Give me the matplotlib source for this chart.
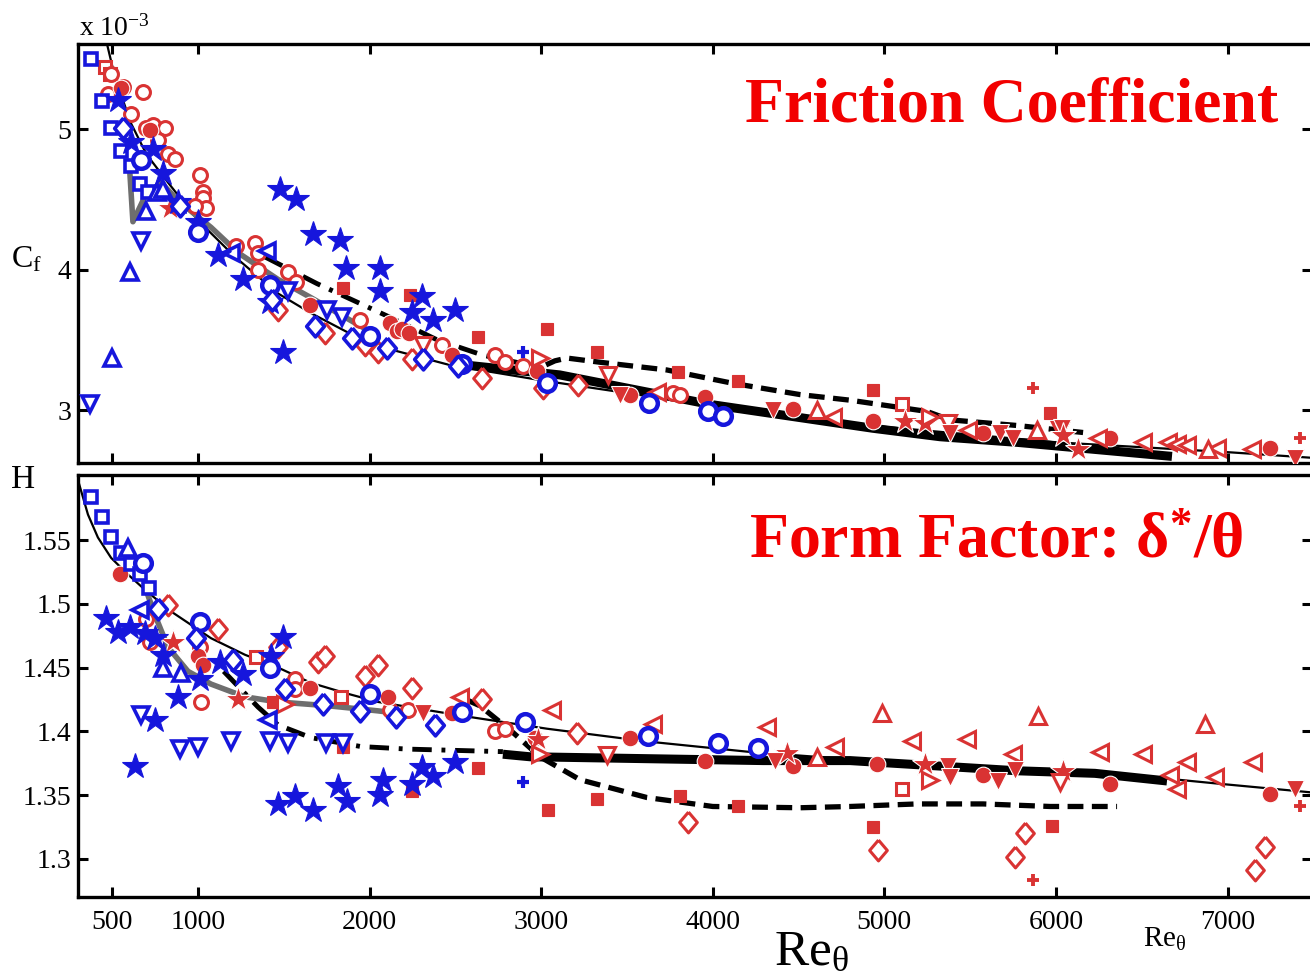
import matplotlib
matplotlib.use('Agg')
import matplotlib.pyplot as plt

BLUE = '#1616dc'
RED = '#d93333'
GRAY = '#6e6e6e'

# ---------------- friction coefficient (units of 1e-3) ----------------
cf_fit_re = [470, 516, 610, 700, 825, 1000, 1216, 1466, 1658, 2002, 2468, 3009, 4000, 5004, 6006, 7002, 7492]
cf_fit = [5.605, 5.37, 5.04, 4.82, 4.62, 4.35, 4.09, 3.83, 3.69, 3.47, 3.32, 3.21, 3.03, 2.88, 2.77, 2.70, 2.66]
cf_band_re = [2480, 3108, 3984, 4934, 5324, 5773, 6676]
cf_band = [3.33, 3.25, 3.04, 2.87, 2.81, 2.77, 2.67]
cf_dashdot_re = [1390, 1693, 2119, 2393, 2661, 2894]
cf_dashdot = [4.09, 3.90, 3.66, 3.50, 3.39, 3.33]
cf_dashed_re = [2894, 2990, 3080, 3150, 3343, 3733, 4118, 4508, 4800, 5248, 5382, 5773, 6158]
cf_dashed = [3.33, 3.30, 3.35, 3.37, 3.34, 3.285, 3.19, 3.11, 3.07, 2.99, 2.93, 2.89, 2.84]
cf_gray_re = [600, 621, 691, 784, 884, 1076, 1233, 1466, 1658, 1915, 1973]
cf_gray = [4.75, 4.34, 4.52, 4.62, 4.49, 4.30, 4.12, 3.93, 3.80, 3.62, 3.58]

cf_bsq_re = [377, 441, 494, 552, 610, 662, 708]
cf_bsq = [5.50, 5.20, 5.01, 4.84, 4.74, 4.61, 4.55]
cf_bup_re = [499, 603, 697, 760, 795]
cf_bup = [3.37, 3.98, 4.42, 4.55, 4.57]
cf_bdn_re = [371, 668, 1524, 1752, 1839]
cf_bdn = [3.04, 4.20, 3.85, 3.71, 3.66]
cf_blt_re = [1190, 1402]
cf_blt = [4.12, 4.13]
cf_bstar_re = [534, 610, 738, 796, 884, 1000, 1117, 1262, 1420, 1478, 1571, 1670, 1827, 1862,
               1496, 2061, 2061, 2306, 2248, 2370, 2498]
cf_bstar = [5.21, 4.91, 4.86, 4.69, 4.48, 4.34, 4.10, 3.93, 3.77, 4.57, 4.50, 4.25, 4.21, 4.01,
            3.41, 4.01, 3.85, 3.81, 3.70, 3.64, 3.71]
cf_bcirc_re = [668, 1000, 1420, 2002, 2538, 3034, 3628, 3972, 4060]
cf_bcirc = [4.78, 4.27, 3.89, 3.53, 3.33, 3.19, 3.05, 2.99, 2.96]
cf_bdia_re = [563, 895, 1431, 1681, 1897, 2101, 2312, 2515]
cf_bdia = [5.01, 4.45, 3.78, 3.60, 3.51, 3.44, 3.36, 3.31]
cf_bplus_re = [2894]
cf_bplus = [3.41]

cf_rsq_re = [460, 490, 5103]
cf_rsq = [5.44, 5.39, 3.04]
cf_rcirc_re = [494, 476, 563, 680, 610, 697, 738, 808, 767, 825, 866, 1012, 1029, 1029, 1047, 983,
               1222, 1332, 1350, 1350, 1524, 1571, 1944, 2422, 2731, 2789, 2894, 3768, 3809]
cf_rcirc = [5.39, 5.25, 5.30, 5.26, 5.11, 5.01, 5.03, 5.01, 4.92, 4.82, 4.79, 4.67, 4.55, 4.51, 4.44, 4.45,
            4.17, 4.19, 4.12, 4.00, 3.98, 3.91, 3.64, 3.46, 3.39, 3.34, 3.31, 3.12, 3.11]
cf_rdot_re = [552, 720, 1653, 2119, 2159, 2190, 2230, 2480, 2975, 3517, 3955, 4467, 4934, 5575, 6315, 7247]
cf_rdot = [5.29, 4.99, 3.75, 3.62, 3.56, 3.58, 3.55, 3.39, 3.28, 3.11, 3.09, 3.01, 2.92, 2.84, 2.80, 2.73]
cf_rfsq_re = [1845, 2236, 2632, 3034, 3325, 3797, 4147, 4934, 5965]
cf_rfsq = [3.87, 3.82, 3.52, 3.58, 3.41, 3.27, 3.21, 3.14, 2.98]
cf_rdia_re = [1466, 1740, 1973, 2049, 2248, 2655, 3011, 3214]
cf_rdia = [3.71, 3.55, 3.46, 3.41, 3.36, 3.23, 3.16, 3.18]
cf_rdn_re = [2312, 3389, 5370, 6023]
cf_rdn = [3.46, 3.25, 2.91, 2.86]
cf_rfdn_re = [3459, 4350, 5382, 5674, 5750, 6035, 7393]
cf_rfdn = [3.11, 3.00, 2.84, 2.84, 2.80, 2.87, 2.66]
cf_rlt_re = [3674, 4700, 5487, 6245, 6507, 6653, 6706, 6764, 6938, 7142]
cf_rlt = [3.13, 2.95, 2.86, 2.80, 2.77, 2.77, 2.76, 2.75, 2.73, 2.72]
cf_rup_re = [4607, 5890, 6886]
cf_rup = [3.00, 2.86, 2.72]
cf_rstar_re = [837, 5120, 5236, 6041, 6129]
cf_rstar = [4.44, 2.92, 2.91, 2.82, 2.72]
cf_rrt_re = [2993, 5265]
cf_rrt = [3.37, 2.95]
cf_rplus_re = [5866, 7422]
cf_rplus = [3.16, 2.80]

# ---------------- form factor H ----------------
h_fit_re = [301, 359, 417, 494, 592, 691, 843, 1076, 1274, 1466, 1658, 1857, 2049, 2545, 3034, 3617,
            4200, 4800, 5575, 6256, 6938, 7492]
h_fit = [1.597, 1.570, 1.552, 1.536, 1.523, 1.511, 1.494, 1.473, 1.460, 1.450, 1.438, 1.430, 1.423,
         1.412, 1.402, 1.392, 1.384, 1.378, 1.372, 1.368, 1.359, 1.352]
h_band_re = [2777, 2934, 4294, 4800, 5773, 6227, 6647]
h_band = [1.382, 1.380, 1.377, 1.377, 1.369, 1.367, 1.361]
h_dashdot_re = [1150, 1193, 1350, 1466, 1658, 1950, 2224, 2777]
h_dashdot = [1.447, 1.441, 1.419, 1.405, 1.395, 1.388, 1.386, 1.384]
h_gray_re = [697, 750, 825, 942, 1076, 1274, 1466, 1758, 2049, 2224]
h_gray = [1.511, 1.491, 1.466, 1.447, 1.437, 1.427, 1.423, 1.420, 1.416, 1.413]
h_dashed_re = [2560, 2643, 2836, 2993, 3226, 3617, 4000, 4508, 4800, 5190, 5575, 5966, 6356]
h_dashed = [1.425, 1.420, 1.399, 1.380, 1.362, 1.348, 1.341, 1.340, 1.341, 1.343, 1.343, 1.341, 1.341]

h_bsq_re = [377, 441, 494, 552, 610, 662, 714]
h_bsq = [1.584, 1.568, 1.552, 1.540, 1.531, 1.523, 1.512]
h_bup_re = [592, 796, 901]
h_bup = [1.544, 1.450, 1.446]
h_bdn_re = [668, 895, 1000, 1193, 1420, 1524, 1745, 1845]
h_bdn = [1.413, 1.386, 1.388, 1.392, 1.392, 1.391, 1.391, 1.391]
h_blt_re = [662, 1408]
h_blt = [1.495, 1.409]
h_bstar_re = [464, 534, 603, 691, 750, 796, 884, 750, 633, 1012, 1128, 1262, 1496, 1426,
              1466, 1565, 1670, 1816, 1868, 2061, 2079, 2248, 2306, 2370, 2498]
h_bstar = [1.489, 1.478, 1.482, 1.477, 1.473, 1.460, 1.427, 1.409, 1.373, 1.441, 1.454, 1.445, 1.474, 1.459,
           1.343, 1.349, 1.338, 1.357, 1.345, 1.350, 1.362, 1.359, 1.372, 1.365, 1.376]
h_bcirc_re = [680, 1012, 1420, 2002, 2538, 2905, 3622, 4030, 4263]
h_bcirc = [1.532, 1.486, 1.450, 1.429, 1.415, 1.407, 1.396, 1.391, 1.387]
h_bdia_re = [767, 989, 1204, 1507, 1728, 1944, 2154, 2381]
h_bdia = [1.496, 1.473, 1.456, 1.433, 1.421, 1.416, 1.411, 1.405]
h_bplus_re = [2894]
h_bplus = [1.360]

h_rdia_re = [825, 1117, 1466, 1699, 1740, 1973, 2049, 2248, 2655, 3208, 3855, 4963, 5761, 5819, 7160, 7218]
h_rdia = [1.499, 1.480, 1.466, 1.454, 1.459, 1.443, 1.452, 1.434, 1.425, 1.399, 1.329, 1.307, 1.301, 1.320,
          1.291, 1.309]
h_rcirc_re = [697, 720, 1012, 1019, 1565, 1565, 2119, 2224, 2731, 2789]
h_rcirc = [1.488, 1.470, 1.466, 1.423, 1.441, 1.433, 1.417, 1.417, 1.400, 1.402]
h_rdot_re = [546, 1000, 1029, 1653, 2107, 2480, 2964, 3517, 3955, 4467, 4956, 5575, 6315, 7247]
h_rdot = [1.523, 1.459, 1.452, 1.434, 1.427, 1.414, 1.395, 1.395, 1.377, 1.373, 1.374, 1.366, 1.359, 1.351]
h_rfsq_re = [1437, 1845, 2248, 2632, 3040, 3325, 3809, 4147, 4934, 5977]
h_rfsq = [1.423, 1.388, 1.353, 1.371, 1.338, 1.347, 1.349, 1.341, 1.325, 1.326]
h_rsq_re = [1338, 1833, 5103]
h_rsq = [1.458, 1.427, 1.355]
h_rstar_re = [855, 1233, 2981, 4433, 5236, 6041]
h_rstar = [1.470, 1.425, 1.394, 1.383, 1.374, 1.369]
h_rlt_re = [2527, 3063, 3651, 4316, 4710, 5161, 5481, 5750, 6256, 6507, 6664, 6764, 6927, 7148, 6706]
h_rlt = [1.427, 1.417, 1.406, 1.403, 1.388, 1.392, 1.394, 1.382, 1.384, 1.382, 1.366, 1.376, 1.364, 1.376, 1.355]
h_rrt_re = [1507, 2993, 5265]
h_rrt = [1.421, 1.382, 1.362]
h_rup_re = [4607, 4986, 5895, 6868]
h_rup = [1.380, 1.414, 1.412, 1.406]
h_rfdn_re = [2312, 4362, 5370, 5382, 5662, 5761, 7393]
h_rfdn = [1.414, 1.377, 1.373, 1.364, 1.361, 1.370, 1.355]
h_rdn_re = [3383, 6023]
h_rdn = [1.381, 1.360]
h_rplus_re = [5866, 7422]
h_rplus = [1.283, 1.341]

xticks = [500, 1000, 2000, 3000, 4000, 5000, 6000, 7000]

plt.rcParams['font.family'] = 'Liberation Serif'
plt.rcParams['mathtext.fontset'] = 'custom'
plt.rcParams['mathtext.rm'] = 'Liberation Serif'
plt.rcParams['mathtext.it'] = 'Liberation Serif:italic'
plt.rcParams['mathtext.bf'] = 'Liberation Serif:bold'

W, H = 1310.0, 980.0
fig = plt.figure(figsize=(W / 100, H / 100), dpi=100)


def box(l, t, r, b):
    return [l / W, 1 - b / H, (r - l) / W, (b - t) / H]


ax1 = fig.add_axes(box(78, 44, 1312, 463))
ax2 = fig.add_axes(box(78, 475, 1312, 897))

# diamond a bit narrower than tall, like the original symbols
DIA = [(0, 1), (0.85, 0), (0, -1), (-0.85, 0), (0, 1)]


def op(ax, x, y, m, c, ms=10, mew=2.2):
    # open marker, white inside
    ax.plot(x, y, ls='none', marker=m, ms=ms, mfc='white', mec=c, mew=mew, zorder=4)


def fl(ax, x, y, m, c, ms=11, edge='white'):
    ax.plot(x, y, ls='none', marker=m, ms=ms, mfc=c, mec=edge, mew=0.8, zorder=4)


def curves(ax, fit, band, dashdot, dashed, gray):
    ax.plot(*fit, color='k', lw=1.6, zorder=3)
    ax.plot(*band, color='k', lw=6.5, zorder=3, solid_capstyle='butt')
    ax.plot(*dashdot, color='k', lw=3.5, dashes=(4, 2, 0.8, 2), zorder=3)
    ax.plot(*dashed, color='k', lw=3.8, dashes=(3, 1.6), zorder=3)
    ax.plot(*gray, color=GRAY, lw=4, zorder=3)


curves(ax1, (cf_fit_re, cf_fit), (cf_band_re, cf_band), (cf_dashdot_re, cf_dashdot),
       (cf_dashed_re, cf_dashed), (cf_gray_re, cf_gray))
curves(ax2, (h_fit_re, h_fit), (h_band_re, h_band), (h_dashdot_re, h_dashdot),
       (h_dashed_re, h_dashed), (h_gray_re, h_gray))

# red data
op(ax1, cf_rsq_re, cf_rsq, 's', RED, ms=8)
op(ax1, cf_rcirc_re, cf_rcirc, 'o', RED, ms=10)
fl(ax1, cf_rdot_re, cf_rdot, 'o', RED, ms=12)
fl(ax1, cf_rfsq_re, cf_rfsq, 's', RED, ms=9, edge=RED)
op(ax1, cf_rdia_re, cf_rdia, DIA, RED, ms=15)
op(ax1, cf_rdn_re, cf_rdn, 'v', RED, ms=11)
fl(ax1, cf_rfdn_re, cf_rfdn, 'v', RED, ms=13)
op(ax1, cf_rlt_re, cf_rlt, '<', RED, ms=11)
op(ax1, cf_rup_re, cf_rup, '^', RED, ms=11)
fl(ax1, cf_rstar_re, cf_rstar, '*', RED, ms=19)
op(ax1, cf_rrt_re, cf_rrt, '>', RED, ms=11)
ax1.plot(cf_rplus_re, cf_rplus, ls='none', marker='+', ms=9, mew=2.8, color=RED, zorder=4)

op(ax2, h_rdia_re, h_rdia, DIA, RED, ms=15)
op(ax2, h_rcirc_re, h_rcirc, 'o', RED, ms=10)
fl(ax2, h_rdot_re, h_rdot, 'o', RED, ms=12)
fl(ax2, h_rfsq_re, h_rfsq, 's', RED, ms=9, edge=RED)
op(ax2, h_rsq_re, h_rsq, 's', RED, ms=8)
fl(ax2, h_rstar_re, h_rstar, '*', RED, ms=19)
op(ax2, h_rlt_re, h_rlt, '<', RED, ms=11)
op(ax2, h_rrt_re, h_rrt, '>', RED, ms=11)
op(ax2, h_rup_re, h_rup, '^', RED, ms=11)
fl(ax2, h_rfdn_re, h_rfdn, 'v', RED, ms=13)
op(ax2, h_rdn_re, h_rdn, 'v', RED, ms=11)
ax2.plot(h_rplus_re, h_rplus, ls='none', marker='+', ms=9, mew=2.8, color=RED, zorder=4)

# blue data
op(ax1, cf_bsq_re, cf_bsq, 's', BLUE, ms=8, mew=2.6)
op(ax1, cf_bup_re, cf_bup, '^', BLUE, ms=11, mew=2.6)
op(ax1, cf_bdn_re, cf_bdn, 'v', BLUE, ms=11, mew=2.6)
op(ax1, cf_blt_re, cf_blt, '<', BLUE, ms=11, mew=2.6)
fl(ax1, cf_bstar_re, cf_bstar, '*', BLUE, ms=19, edge=BLUE)
op(ax1, cf_bcirc_re, cf_bcirc, 'o', BLUE, ms=12, mew=3.2)
op(ax1, cf_bdia_re, cf_bdia, DIA, BLUE, ms=15, mew=2.6)
ax1.plot(cf_bplus_re, cf_bplus, ls='none', marker='+', ms=9, mew=3, color=BLUE, zorder=4)

op(ax2, h_bsq_re, h_bsq, 's', BLUE, ms=8, mew=2.6)
op(ax2, h_bup_re, h_bup, '^', BLUE, ms=11, mew=2.6)
op(ax2, h_bdn_re, h_bdn, 'v', BLUE, ms=11, mew=2.6)
op(ax2, h_blt_re, h_blt, '<', BLUE, ms=11, mew=2.6)
fl(ax2, h_bstar_re, h_bstar, '*', BLUE, ms=19, edge=BLUE)
op(ax2, h_bcirc_re, h_bcirc, 'o', BLUE, ms=12, mew=3.2)
op(ax2, h_bdia_re, h_bdia, DIA, BLUE, ms=15, mew=2.6)
ax2.plot(h_bplus_re, h_bplus, ls='none', marker='+', ms=9, mew=3, color=BLUE, zorder=4)

for ax in (ax1, ax2):
    ax.set_xlim(301, 7492)
    ax.set_xticks(xticks)
    ax.tick_params(direction='in', top=True, right=True, length=7, width=2.2,
                   labelsize=20, pad=5)
    ax.tick_params(axis='x', pad=9)
    for s in ax.spines.values():
        s.set_linewidth(2.4)

ax1.set_ylim(2.623, 5.605)
ax1.set_yticks([3, 4, 5])
ax1.set_yticklabels(['3', '4', '5'])
ax1.set_xticklabels([])

ax2.set_ylim(1.270, 1.601)
ax2.set_yticks([1.3, 1.35, 1.4, 1.45, 1.5, 1.55])
ax2.set_yticklabels(['1.3', '1.35', '1.4', '1.45', '1.5', '1.55'])
ax2.set_xticklabels([str(t) for t in xticks])


def px(x, y):
    return x / W, 1 - y / H


fig.text(*px(79, 36), r'x 10$^{-3}$', fontsize=20, va='baseline')
fig.text(*px(11, 267), r'C$_{\mathrm{f}}$', fontsize=23, va='baseline')
fig.text(*px(11, 488), 'H', fontsize=24, va='baseline')
fig.text(*px(774, 965), r'Re$_{\mathrm{\theta}}$', fontsize=37, va='baseline')
fig.text(*px(1143, 947), r'Re$_{\mathrm{\theta}}$', fontsize=21, va='baseline')
fig.text(*px(745, 122), 'Friction Coefficient', fontsize=46, fontweight='bold',
         color='#f20000', va='baseline')
fig.text(*px(749, 557), r'Form Factor: δ$^{\mathbf{*}}$/θ', fontsize=46, fontweight='bold',
         color='#f20000', va='baseline')

fig.savefig('out.png', dpi=100)
